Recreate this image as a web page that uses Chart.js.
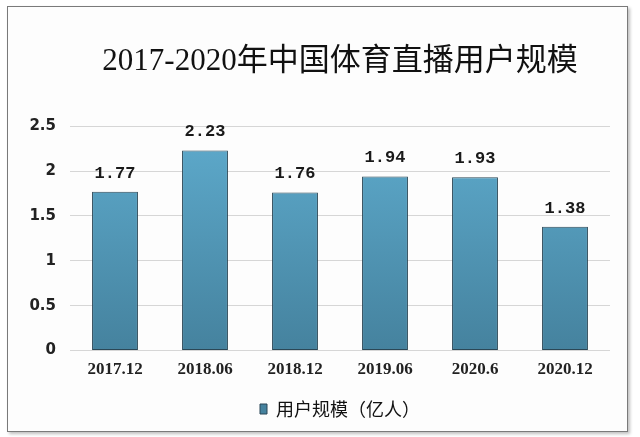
<!DOCTYPE html>
<html>
<head>
<meta charset="utf-8">
<script src="https://cdn.jsdelivr.net/npm/chart.js@4.4.0/dist/chart.umd.min.js"></script>
<style>
  html, body { margin: 0; padding: 0; background: #fff; }
  #wrap { position: relative; width: 640px; height: 437px; }
  #frame {
    position: absolute; left: 7px; top: 6px; width: 619px; height: 424px;
    border: 1px solid #7a7a7a; box-shadow: 2px 2px 3px rgba(0,0,0,0.25);
    background: #fdfdfd;
  }
  canvas { position: absolute; left: 0; top: 0; }
</style>
</head>
<body>
<div id="wrap">
  <div id="frame"></div>
  <canvas id="chart" width="640" height="437"></canvas>
</div>
<script>
// Data
const categories = ['2017.12', '2018.06', '2018.12', '2019.06', '2020.6', '2020.12'];
const users = [1.77, 2.23, 1.76, 1.94, 1.93, 1.38];
const seriesName = '用户规模（亿人）';
const chartTitle = '2017-2020年中国体育直播用户规模';

// Value labels above the bars
const valueLabels = {
    id: 'valueLabels',
    afterDatasetsDraw(chart) {
        const ctx = chart.ctx;
        const meta = chart.getDatasetMeta(0);
        ctx.save();
        ctx.font = 'bold 17px "Liberation Mono", "DejaVu Sans Mono", monospace';
        ctx.fillStyle = '#1a1a1a';
        ctx.textAlign = 'center';
        ctx.textBaseline = 'bottom';
        meta.data.forEach((bar, i) => {
            ctx.fillText(users[i].toFixed(2), bar.x, bar.y - 10);
        });
        ctx.restore();
    }
};

function barGradient(context) {
    const area = context.chart.chartArea;
    if (!area) return '#4f93b4';
    const g = context.chart.ctx.createLinearGradient(0, area.top, 0, area.bottom);
    g.addColorStop(0, '#5eabcd');
    g.addColorStop(1, '#45829e');
    return g;
}

new Chart(document.getElementById('chart'), {
    type: 'bar',
    data: {
        labels: categories,
        datasets: [{
            label: seriesName,
            data: users,
            backgroundColor: barGradient,
            borderColor: '#2b4756',
            borderWidth: 1,
            borderSkipped: false,
            categoryPercentage: 1,
            barPercentage: 0.51
        }]
    },
    options: {
        responsive: false,
        animation: false,
        layout: { padding: { left: 18, right: 30, top: 43, bottom: 9 } },
        scales: {
            y: {
                min: 0,
                max: 2.5,
                ticks: {
                    stepSize: 0.5,
                    color: '#222',
                    padding: 14,
                    callback: (v) => String(v),
                    font: { family: '"DejaVu Sans", sans-serif', size: 15, weight: 'bold' }
                },
                grid: { color: '#d6d6d6', drawTicks: false },
                border: { display: false },
                afterFit(axis) { axis.width = 52; }
            },
            x: {
                ticks: {
                    color: '#222',
                    padding: 1,
                    font: { family: '"Liberation Serif", serif', size: 17, weight: 'bold' }
                },
                grid: { display: false },
                border: { display: false },
                afterFit(axis) { axis.height += 8; }
            }
        },
        plugins: {
            title: {
                display: true,
                fullSize: false,
                text: chartTitle,
                color: '#111',
                padding: { top: 0, bottom: 46 },
                font: { family: '"Liberation Serif", "Noto Sans CJK SC", serif', size: 31, weight: 'normal' }
            },
            legend: {
                position: 'bottom',
                fullSize: false,
                labels: {
                    color: '#111',
                    boxWidth: 7,
                    boxHeight: 10,
                    padding: 11,
                    font: { family: '"Noto Sans CJK SC", sans-serif', size: 18 }
                }
            },
            tooltip: { enabled: false }
        }
    },
    plugins: [valueLabels]
});
</script>
</body>
</html>
